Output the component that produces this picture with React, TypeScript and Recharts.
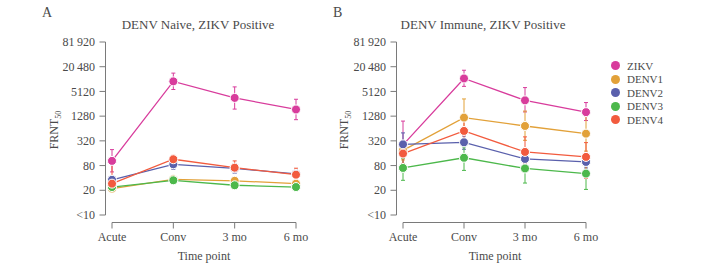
import React from 'react';
import { LineChart, Line, XAxis, YAxis, ErrorBar, Legend } from 'recharts';

const timePoints = ['Acute', 'Conv', '3 mo', '6 mo'];
const titreTicks = [5, 20, 80, 320, 1280, 5120, 20480, 81920];
const seriesKeys = ['ZIKV', 'DENV1', 'DENV2', 'DENV3', 'DENV4'];

const seriesColors: Record<string, string> = {
  ZIKV: '#d83c9c',
  DENV1: '#e2a139',
  DENV2: '#5a60ac',
  DENV3: '#4cb84b',
  DENV4: '#f25b3e',
};

// Panel A: DENV naive, ZIKV positive (geometric mean titre and 95% CI)
const naiveZikv = [104, 9000, 3560, 1860];
const naiveZikvCI = [[56, 196], [5700, 14300], [1900, 6600], [1050, 3300]];
const naiveDenv1 = [22, 37, 34, 29];
const naiveDenv1CI = [[20, 25], [33, 41], [30, 38], [26, 32]];
const naiveDenv2 = [36, 86, 68, 50];
const naiveDenv2CI = [[30, 43], [65, 110], [52, 90], [40, 62]];
const naiveDenv3 = [24, 35, 26.5, 24];
const naiveDenv3CI = [[21, 27], [31, 39], [24, 29], [22, 26]];
const naiveDenv4 = [29, 114, 71, 48];
const naiveDenv4CI = [[25, 95], [95, 142], [55, 104], [37, 69]];

// Panel B: DENV immune, ZIKV positive
const immuneZikv = [255, 10600, 3100, 1600];
const immuneZikvCI = [[90, 970], [6800, 16800], [1620, 6350], [1000, 2740]];
const immuneDenv1 = [188, 1180, 737, 480];
const immuneDenv1CI = [[110, 320], [600, 3360], [330, 1700], [180, 1280]];
const immuneDenv2 = [263, 295, 116, 98];
const immuneDenv2CI = [[150, 500], [200, 420], [85, 160], [70, 135]];
const immuneDenv3 = [70, 124, 68, 51];
const immuneDenv3CI = [[35, 120], [61, 228], [30, 140], [21, 107]];
const immuneDenv4 = [157, 558, 172, 130];
const immuneDenv4CI = [[90, 270], [300, 1000], [90, 400], [39, 290]];

type Series = { values: number[]; ci: number[][] };

const buildRows = (series: Record<string, Series>) =>
  timePoints.map((time, i) => {
    const row: Record<string, any> = { time };
    for (const key of Object.keys(series)) {
      const v = series[key].values[i];
      const [lo, hi] = series[key].ci[i];
      row[key] = v;
      row[`${key}Err`] = [v - lo, hi - v];
    }
    return row;
  });

const naiveRows = buildRows({
  ZIKV: { values: naiveZikv, ci: naiveZikvCI },
  DENV1: { values: naiveDenv1, ci: naiveDenv1CI },
  DENV2: { values: naiveDenv2, ci: naiveDenv2CI },
  DENV3: { values: naiveDenv3, ci: naiveDenv3CI },
  DENV4: { values: naiveDenv4, ci: naiveDenv4CI },
});

const immuneRows = buildRows({
  ZIKV: { values: immuneZikv, ci: immuneZikvCI },
  DENV1: { values: immuneDenv1, ci: immuneDenv1CI },
  DENV2: { values: immuneDenv2, ci: immuneDenv2CI },
  DENV3: { values: immuneDenv3, ci: immuneDenv3CI },
  DENV4: { values: immuneDenv4, ci: immuneDenv4CI },
});

const FONT = 'Liberation Serif, Times New Roman, Tinos, DejaVu Serif, serif';
const TEXT = '#4a4a4a';
const AXIS = '#7a7a7a';
const AXIS_GAP = 7; // axes sit detached from the plot area
const TICK_LEN = 6;

// shared layout for both panels
const CHART_H = 269;
const MARGIN_TOP = 42;
const MARGIN_LEFT = 52;
const MARGIN_BOTTOM = 24;
const Y_AXIS_W = 60;
const X_AXIS_H = 30;
const LEGEND_W = 80;
const PLOT_TOP = MARGIN_TOP;
const PLOT_BOTTOM = CHART_H - MARGIN_BOTTOM - X_AXIS_H;
const PLOT_LEFT = MARGIN_LEFT + Y_AXIS_W;

const panels = [
  { left: 0, width: 330, marginRight: 34, legend: false },
  { left: 291, width: 411, marginRight: 36, legend: true },
];

const formatTitre = (v: number) => {
  if (v < 10) return '<10';
  if (v >= 10000) return String(v).replace(/\B(?=(\d{3})+(?!\d))/g, '\u2009');
  return String(v);
};

const TitreTick = (props: any) => {
  const { x, y, payload } = props;
  return (
    <text x={x - AXIS_GAP - TICK_LEN - 4} y={y} dy="0.35em" textAnchor="end" fill={TEXT} fontSize={12} fontFamily={FONT}>
      {formatTitre(payload.value)}
    </text>
  );
};

const TimeTick = (props: any) => {
  const { x, y, payload } = props;
  return (
    <text x={x} y={y + AXIS_GAP + TICK_LEN + 4} dy="0.71em" textAnchor="middle" fill={TEXT} fontSize={12} fontFamily={FONT}>
      {payload.value}
    </text>
  );
};

// detached axis spines and tick marks, laid over both panels
const AxisFrame = () => {
  const lo = Math.log(titreTicks[0]);
  const hi = Math.log(titreTicks[titreTicks.length - 1]);
  const titreY = (v: number) => PLOT_BOTTOM - ((Math.log(v) - lo) / (hi - lo)) * (PLOT_BOTTOM - PLOT_TOP);
  return (
    <svg
      width={702}
      height={269}
      style={{ position: 'absolute', left: 0, top: 0, pointerEvents: 'none' }}
    >
      {panels.map((p, k) => {
        const left = p.left + PLOT_LEFT;
        const right = p.left + p.width - p.marginRight - (p.legend ? LEGEND_W : 0);
        const ax = left - AXIS_GAP + 0.5;
        const ay = PLOT_BOTTOM + AXIS_GAP + 0.5;
        const step = (right - left) / (timePoints.length - 1);
        return (
          <g key={k} stroke={AXIS} strokeWidth={1} fill="none">
            <line x1={ax} x2={ax} y1={PLOT_TOP} y2={PLOT_BOTTOM} />
            {titreTicks.map((v) => (
              <line key={v} x1={ax - TICK_LEN} x2={ax} y1={titreY(v)} y2={titreY(v)} />
            ))}
            <line x1={left} x2={right} y1={ay} y2={ay} />
            {timePoints.map((t, i) => (
              <line key={t} x1={left + i * step} x2={left + i * step} y1={ay} y2={ay + TICK_LEN} />
            ))}
          </g>
        );
      })}
    </svg>
  );
};

const TitreLegend = () => (
  <div style={{ width: LEGEND_W, paddingLeft: 25, boxSizing: 'border-box', fontFamily: FONT, fontSize: 11, color: TEXT }}>
    {seriesKeys.map((key) => (
      <div key={key} style={{ display: 'flex', alignItems: 'center', height: 13.5 }}>
        <span style={{ width: 9, height: 9, borderRadius: '50%', background: seriesColors[key], display: 'inline-block' }} />
        <span style={{ marginLeft: 7 }}>{key}</span>
      </div>
    ))}
  </div>
);

const Panel = ({ rows, width, marginRight, withLegend }: { rows: Record<string, any>[]; width: number; marginRight: number; withLegend?: boolean }) => (
  <LineChart
    width={width}
    height={CHART_H}
    data={rows}
    margin={{ top: MARGIN_TOP, right: marginRight, left: MARGIN_LEFT, bottom: MARGIN_BOTTOM }}
  >
    <XAxis
      dataKey="time"
      interval={0}
      axisLine={false}
      tickLine={false}
      tickSize={0}
      tickMargin={0}
      height={X_AXIS_H}
      tick={(p: any) => <TimeTick {...p} />}
    />
    <YAxis
      type="number"
      scale="log"
      domain={[titreTicks[0], titreTicks[titreTicks.length - 1]]}
      ticks={titreTicks}
      interval={0}
      width={Y_AXIS_W}
      axisLine={false}
      tickLine={false}
      tickSize={0}
      tickMargin={0}
      tick={(p: any) => <TitreTick {...p} />}
    />
    {withLegend && (
      <Legend
        layout="vertical"
        align="right"
        verticalAlign="top"
        content={() => <TitreLegend />}
        wrapperStyle={{ top: 59 }}
      />
    )}
    {seriesKeys.map((key) => (
      <Line
        key={key}
        dataKey={key}
        stroke={seriesColors[key]}
        strokeWidth={1.3}
        dot={{ r: 4.5, fill: seriesColors[key], stroke: '#fff', strokeWidth: 1, fillOpacity: 1 }}
        activeDot={false}
        isAnimationActive={false}
      >
        <ErrorBar dataKey={`${key}Err`} direction="y" width={2} stroke={seriesColors[key]} strokeWidth={1} />
      </Line>
    ))}
  </LineChart>
);

const textBase: React.CSSProperties = { position: 'absolute', fontFamily: FONT, color: TEXT, whiteSpace: 'nowrap' };

const Frnt = ({ cx }: { cx: number }) => (
  <div
    style={{
      ...textBase,
      left: cx,
      top: 130,
      fontSize: 12,
      transform: 'translate(-50%, -50%) rotate(-90deg)',
    }}
  >
    FRNT<sub style={{ fontSize: 8 }}>50</sub>
  </div>
);

export default function App() {
  return (
    <div style={{ position: 'absolute', left: 0, top: 0, width: 702, height: 269, background: '#fff' }}>
      <div style={{ position: 'absolute', left: panels[0].left, top: 0 }}>
        <Panel rows={naiveRows} width={panels[0].width} marginRight={panels[0].marginRight} />
      </div>
      <div style={{ position: 'absolute', left: panels[1].left, top: 0 }}>
        <Panel rows={immuneRows} width={panels[1].width} marginRight={panels[1].marginRight} withLegend />
      </div>
      <AxisFrame />

      <div style={{ ...textBase, left: 42, top: 5, fontSize: 14 }}>A</div>
      <div style={{ ...textBase, left: 333, top: 5, fontSize: 14 }}>B</div>
      <div style={{ ...textBase, left: 198, top: 25, fontSize: 13, transform: 'translate(-50%, -50%)' }}>
        DENV Naive, ZIKV Positive
      </div>
      <div style={{ ...textBase, left: 483, top: 25, fontSize: 13, transform: 'translate(-50%, -50%)' }}>
        DENV Immune, ZIKV Positive
      </div>
      <div style={{ ...textBase, left: 204, top: 256, fontSize: 12, transform: 'translate(-50%, -50%)' }}>Time point</div>
      <div style={{ ...textBase, left: 495, top: 256, fontSize: 12, transform: 'translate(-50%, -50%)' }}>Time point</div>
      <Frnt cx={55} />
      <Frnt cx={345} />
    </div>
  );
}
